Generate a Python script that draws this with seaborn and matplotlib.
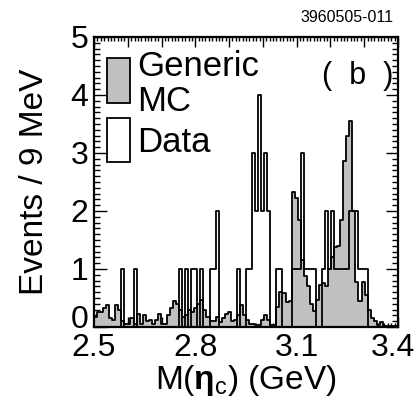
import numpy as np
import pandas as pd
import matplotlib
matplotlib.use("Agg")
import matplotlib.pyplot as plt
import seaborn as sns
from matplotlib.patches import Rectangle
from matplotlib.ticker import MultipleLocator, FixedLocator, FixedFormatter
from matplotlib.transforms import ScaledTranslation

sns.set_theme(style="white")
plt.rcParams['font.family'] = ['Liberation Sans', 'DejaVu Sans']
plt.rcParams['mathtext.fontset'] = 'custom'
plt.rcParams['mathtext.rm'] = 'Liberation Sans'
plt.rcParams['mathtext.bf'] = 'Liberation Sans:bold'
plt.rcParams['mathtext.it'] = 'Liberation Sans:italic'
for k in ("text.color", "axes.labelcolor", "xtick.color", "ytick.color", "axes.edgecolor"):
    plt.rcParams[k] = "black"

# ---- data ----
bin_lo, bin_hi, n_bins = 2.5, 3.4, 100

mc_counts = [
    0.18, 0.26, 0.26, 0.33, 0.38, 0.15, 0.12, 0.38, 0.30, 0.10,
    0.05, 0.05, 0.15, 0.05, 0.22, 0.05, 0.20, 0.10, 0.12, 0.05,
    0.12, 0.22, 0.05, 0.05, 0.20, 0.33, 0.45, 0.40, 0.30, 0.18,
    0.20, 0.30, 0.25, 0.33, 0.40, 0.46, 0.30, 0.18, 0.10, 0.10,
    0.18, 0.08, 0.15, 0.22, 0.25, 0.10, 0.12, 0.20, 0.38, 0.20,
    0.12, 0.06, 0.06, 0.03, 0.03, 0.12, 0.20, 0.12, 0.03, 0.03,
    0.35, 0.60, 0.58, 0.43, 0.45, 2.33, 2.23, 1.84, 1.15, 0.88,
    0.70, 0.40, 0.28, 0.46, 0.72, 0.75, 0.70, 1.00, 1.20, 1.38,
    1.40, 1.84, 2.87, 3.30, 3.55, 2.00, 0.78, 0.45, 0.78, 0.55,
    0.30, 0.15, 0.10, 0.03, 0.08, 0.02, 0.02, 0.02, 0.02, 0.02,
]

data_counts = [
    0, 0, 0, 0, 0, 0, 0, 0, 0, 1,
    0, 0, 0, 1, 0, 0, 0, 0, 0, 0,
    0, 0, 0, 0, 0, 0, 0, 0, 1, 0,
    1, 0, 1, 1, 0, 1, 0, 0, 1, 1,
    2, 0, 0, 0, 0, 0, 0, 1, 0, 0,
    1, 1, 3, 2, 4, 2, 3, 2, 0, 0,
    1, 1, 0, 0, 0, 1, 1, 1, 3, 1,
    1, 1, 1, 0, 0, 1, 2, 1, 2, 1,
    1, 1, 1, 1, 2, 2, 2, 1, 1, 1,
    0, 0, 0, 0, 0, 0, 0, 0, 0, 0,
]

x_tick_values = [2.5, 2.8, 3.1, 3.4]
x_tick_labels = ["2.5", "2.8", "3.1", "3.4"]
y_tick_labels = ["0", "1", "2", "3", "4", "5"]

width = (bin_hi - bin_lo) / n_bins
centers = bin_lo + width * (np.arange(n_bins) + 0.5)
df = pd.DataFrame({"mass": centers, "mc": mc_counts, "data": data_counts})

# ---- figure ----
fig = plt.figure(figsize=(4.18, 4.09), dpi=100)
ax = fig.add_axes([94 / 418, 1 - 327 / 409, 304 / 418, 290 / 409])

sns.histplot(data=df, x="mass", weights="mc", bins=n_bins, binrange=(bin_lo, bin_hi),
             element="step", fill=True, color="#c0c0c0", edgecolor="black",
             linewidth=1.3, alpha=1, ax=ax, zorder=2)
sns.histplot(data=df, x="mass", weights="data", bins=n_bins, binrange=(bin_lo, bin_hi),
             element="step", fill=False, color="black", linewidth=1.3, ax=ax, zorder=3)

ax.set_xlim(bin_lo, bin_hi)
ax.set_ylim(0, 5)

for s in ax.spines.values():
    s.set_linewidth(1.6)
    s.set_color("black")
    s.set_zorder(5)

xt = np.round(np.arange(2.5, 3.4001, 0.1), 2)
ax.xaxis.set_major_locator(FixedLocator(xt))
labs = []
for v in xt:
    m = [l for t, l in zip(x_tick_values, x_tick_labels) if abs(t - v) < 1e-6]
    labs.append(m[0] if m else "")
ax.xaxis.set_major_formatter(FixedFormatter(labs))
ax.xaxis.set_minor_locator(MultipleLocator(0.01))
ax.yaxis.set_major_locator(FixedLocator(range(len(y_tick_labels))))
ax.yaxis.set_major_formatter(FixedFormatter(y_tick_labels))
ax.yaxis.set_minor_locator(MultipleLocator(0.1))

ax.tick_params(axis="both", which="both", direction="in", top=True, right=True,
               bottom=True, left=True, color="black", labelcolor="black", width=1.0)
ax.tick_params(axis="y", which="major", length=9, labelsize=23, pad=4)
ax.tick_params(axis="y", which="minor", length=4)
ax.tick_params(axis="x", which="major", length=7, labelsize=23, pad=4)
ax.tick_params(axis="x", which="minor", length=3)

# nudge the corner labels as in the reference
ytk = ax.yaxis.get_major_ticks()
ytk[0].label1.set_transform(ytk[0].label1.get_transform() +
                            ScaledTranslation(0, 0.11, fig.dpi_scale_trans))
xtk = ax.xaxis.get_major_ticks()
xtk[-1].label1.set_transform(xtk[-1].label1.get_transform() +
                             ScaledTranslation(-0.05, 0, fig.dpi_scale_trans))

ax.set_xlabel(r"M($\mathbf{η}_\mathrm{c}$) (GeV)", fontsize=24, labelpad=0, color="black")
ax.set_ylabel("Events / 9 MeV", fontsize=24, labelpad=15, color="black")

# legend
ax.add_patch(Rectangle((0.043, 0.772), 0.075, 0.156, transform=ax.transAxes,
                       facecolor="#c0c0c0", edgecolor="black", linewidth=1.3, zorder=6))
ax.add_patch(Rectangle((0.043, 0.569), 0.075, 0.151, transform=ax.transAxes,
                       facecolor="white", edgecolor="black", linewidth=1.3, zorder=6))
ax.text(0.142, 0.897, "Generic", transform=ax.transAxes, fontsize=25,
        va="center", ha="left", color="black", zorder=6)
ax.text(0.142, 0.777, "MC", transform=ax.transAxes, fontsize=25,
        va="center", ha="left", color="black", zorder=6)
ax.text(0.142, 0.635, "Data", transform=ax.transAxes, fontsize=25,
        va="center", ha="left", color="black", zorder=6)
ax.text(0.985, 0.865, "(  b  )", transform=ax.transAxes, fontsize=22,
        va="center", ha="right", color="black", zorder=6)

fig.text(393 / 418, 1 - 18 / 409, "3960505-011", fontsize=11.5,
         ha="right", va="center", color="black")

fig.savefig("out.png", dpi=100)
